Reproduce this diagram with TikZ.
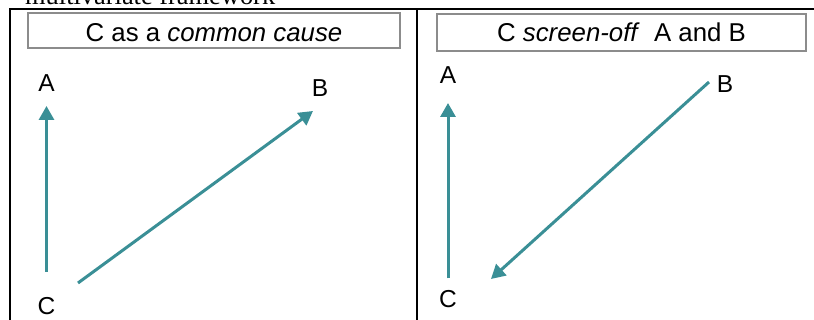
\documentclass[tikz,border=0pt]{standalone}
\usepackage{fontspec}
\setmainfont{Liberation Sans}
\newfontfamily\serifface{Liberation Serif}
\usetikzlibrary{arrows.meta,shadows,calc}
\definecolor{linkteal}{RGB}{58,143,150}
\definecolor{boxgray}{RGB}{140,140,140}
\begin{document}
\begin{tikzpicture}[x=1pt,y=-1pt,
  rule/.style={line width=2pt},
  titlebox/.style={draw=boxgray, line width=1.3pt, fill=white, inner sep=0pt,
    text depth=0pt, font=\fontsize{25.8}{30}\selectfont,
    drop shadow={shadow xshift=1.2pt, shadow yshift=-1.2pt, opacity=0.35, fill=gray}},
  var/.style={inner sep=0pt, font=\fontsize{24.5}{28}\selectfont},
  link/.style={draw=linkteal, line width=3pt, -{Triangle[length=14pt,width=15pt]}}]
\useasboundingbox (0,0) rectangle (814,320);
\clip (0,0) rectangle (814,320);

% running text of the page above the table
\node[anchor=base west, inner sep=0pt, font=\serifface\fontsize{26.4}{30}\selectfont]
  (head) at (25,5) {multivariate framework};

% table rules
\draw[rule] (9,9) -- (814,9);
\draw[rule] (10,9) -- (10,320);
\draw[rule] (416.5,9) -- (416.5,320);

% panel titles
\node[titlebox, minimum width=372pt, minimum height=35pt, text height=23pt]
  (t1) at (214,30.5) {C as a \textit{common cause}};
\node[titlebox, minimum width=369pt, minimum height=37pt, text height=19pt]
  (t2) at (621.5,32.5) {C \textit{screen-off}\hspace{0.55em}A and B};

% left panel: common cause
\node[var] (A1) at (46.5,83.5) {A};
\node[var] (B1) at (320,88) {B};
\node[var] (C1) at (46.5,306.5) {C};
\draw[link] ($(C1)+(0,-34.5)$) -- ($(A1)+(0,22.5)$);
\draw[link] ($(C1)+(31.5,-23.5)$) -- ($(B1)+(-7,23)$);

% right panel: screening off
\node[var] (A2) at (448,75) {A};
\node[var] (B2) at (725,84) {B};
\node[var] (C2) at (448,299) {C};
\draw[link] ($(C2)+(0,-20.5)$) -- ($(A2)+(0,28)$);
\draw[link] ($(B2)+(-16,-2)$) -- ($(C2)+(43,-20)$);
\end{tikzpicture}
\end{document}
